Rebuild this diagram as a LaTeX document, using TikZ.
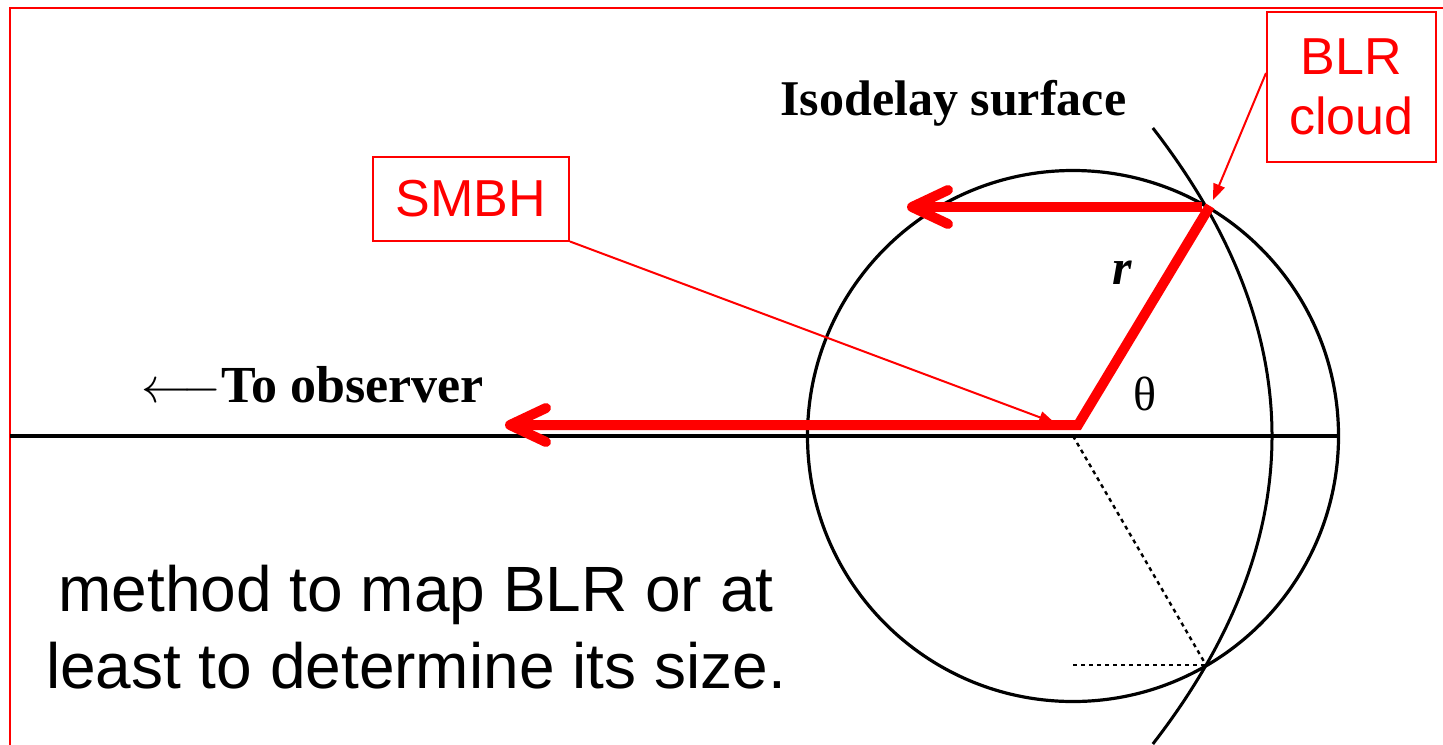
\documentclass[tikz,border=0pt]{standalone}
\usepackage{fontspec}
\setmainfont{Liberation Serif}
\newfontfamily\arial{Liberation Sans}
\usetikzlibrary{arrows.meta}
\begin{document}
\begin{tikzpicture}[x=0.5pt,y=-0.5pt,
  blk/.style={line width=1.6pt},
  redray/.style={red, line width=5pt, line cap=butt, miter limit=10,
    -{Straight Barb[length=18pt,width=17pt,round]}},
  pointer/.style={red, line width=1pt, -{Triangle[length=8pt,width=6pt]}},
  labelbox/.style={draw=red, line width=1pt, text=red, inner sep=0pt,
    font=\arial\fontsize{26}{30}\selectfont},
  dotline/.style={line width=1.2pt, dash pattern=on 2pt off 2pt},
  serifbold/.style={font=\bfseries\fontsize{25}{30}\selectfont, inner sep=0pt},
]
\useasboundingbox (0,0) rectangle (1443,744);
\begin{scope}
  \clip (0,0) rectangle (1443,744);
  \draw[red, line width=1.2pt] (10,8) rectangle (1500,800);
\end{scope}

% geometry
\coordinate (O) at (1073,436);
\coordinate (C) at (1206,207);
\coordinate (M) at (1206,665);
\coordinate (Mleft) at (1073,665);
\coordinate (Lend) at (10,436);
\coordinate (Rend) at (1338,436);

\draw[line width=2pt] (Lend) -- (Rend);
\draw[blk] (O) circle [radius=265.5];
\draw[line width=1.5pt] plot[domain=-308:308, samples=121, smooth]
  ({1272 - (\x/28.2135)^2}, {436+\x});
\draw[dotline] (O) -- (M);
\draw[dotline] (Mleft) -- (M);

% red rays
\coordinate (S) at (1078,425);
\coordinate (Ctop) at (1210,206);
\coordinate (tipA) at (505,425);
\coordinate (Cl) at (1202,207);
\coordinate (tipB) at (907,207);
\draw[redray] (Ctop) -- (S) -- (tipA);
\draw[redray] (Cl) -- (tipB);

% labels
\node[serifbold, anchor=base west] (iso) at (780,115) {Isodelay surface};
\node[serifbold, font=\bfseries\fontsize{26}{30}\selectfont, anchor=base west] (obs) at (141,402) {$\longleftarrow$To observer};
\node[font=\fontsize{24}{28}\selectfont, inner sep=0pt] (th) at (1145,394) {θ};
\node[font=\bfseries\itshape\fontsize{25}{30}\selectfont, inner sep=0pt] (r) at (1122,273) {r};

\node[labelbox, minimum width=98pt, minimum height=42pt] (smbh) at (471,198.5) {SMBH};
\node[labelbox, minimum width=84.5pt, minimum height=75pt, align=center] (blr) at (1351.5,87) {BLR\\cloud};

\coordinate (tipS) at (1055,423);
\coordinate (tipC) at (1213,200);
\draw[pointer] (smbh.south east) -- (tipS);
\draw[pointer] ([yshift=7pt]blr.west) -- (tipC);

\node[font=\arial\fontsize{32}{38.5}\selectfont, align=center, anchor=base, inner sep=0pt] (cap) at (416,688)
  {method to map BLR or at\\least to determine its size.};
\end{tikzpicture}
\end{document}
